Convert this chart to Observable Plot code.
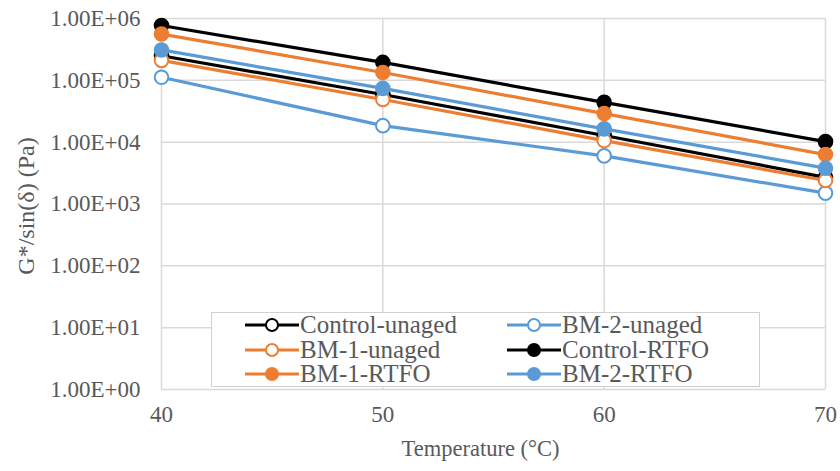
<!DOCTYPE html>
<html><head><meta charset="utf-8">
<script src="https://cdn.jsdelivr.net/npm/d3@7"></script>
<script src="https://cdn.jsdelivr.net/npm/@observablehq/plot@0.6"></script>
<style>
body{margin:0;background:#fff;}
#wrap{position:relative;width:840px;height:471px;font-family:"Liberation Serif","Times New Roman",serif;}
#legend{position:absolute;left:211px;top:312px;width:549px;height:75px;border:1.5px solid #d0d0d0;background:#fff;box-sizing:border-box;font-size:25px;color:#595959;}
.item{position:absolute;display:flex;align-items:center;white-space:nowrap;height:24px;line-height:24px;}
.item svg{margin-right:1px;flex:none;}
</style></head>
<body><div id="wrap"><div id="chart"></div><div id="legend"></div></div>
<script>
const temps = [40, 50, 60, 70];
const seriesNames = ["Control-unaged","BM-2-unaged","BM-1-unaged","Control-RTFO","BM-1-RTFO","BM-2-RTFO"];
const seriesColors = ["#000000","#5B9BD5","#ED7D31","#000000","#ED7D31","#5B9BD5"];
const seriesFilled = [false,false,false,true,true,true];
const controlUnaged = [250000, 59000, 12800, 2700];
const bm2Unaged     = [112000, 18500, 6000, 1500];
const bm1Unaged     = [210000, 49000, 10600, 2400];
const controlRTFO   = [770000, 195000, 44000, 10200];
const bm1RTFO       = [560000, 134000, 29000, 6300];
const bm2RTFO       = [310000, 74000, 16400, 3800];
const seriesValues = [controlUnaged, bm2Unaged, bm1Unaged, controlRTFO, bm1RTFO, bm2RTFO];
const yTicks = [1, 10, 100, 1000, 10000, 100000, 1000000];

const rows = [];
seriesNames.forEach((s, i) => temps.forEach((t, j) => rows.push({series: s, idx: i, t, v: seriesValues[i][j]})));

const fmt = v => { const e = Math.round(Math.log10(v)); return "1.00E+" + String(e).padStart(2, "0"); };
const FONT = "'Liberation Serif', 'Times New Roman', serif";

const marks = [
  Plot.gridY(yTicks, {stroke: "#d9d9d9", strokeOpacity: 1, strokeWidth: 1.5}),
  Plot.gridX(temps, {stroke: "#d9d9d9", strokeOpacity: 1, strokeWidth: 1.5}),
  Plot.text(yTicks, {y: d => d, text: fmt, frameAnchor: "left", textAnchor: "end", dx: -21, fontSize: 23, fontFamily: FONT, fill: "#595959"}),
  Plot.text(temps, {x: d => d, text: d => String(d), frameAnchor: "bottom", lineAnchor: "top", dy: 16, fontSize: 23, fontFamily: FONT, fill: "#595959"})
];
seriesNames.forEach((s, i) => {
  const d = rows.filter(r => r.idx === i);
  marks.push(Plot.line(d, {x: "t", y: "v", stroke: seriesColors[i], strokeWidth: 3.2}));
  marks.push(Plot.dot(d, {x: "t", y: "v", r: 6.8, stroke: seriesColors[i], strokeWidth: 2, fill: seriesFilled[i] ? seriesColors[i] : "white"}));
});

const chart = Plot.plot({
  width: 840, height: 471,
  marginLeft: 161, marginRight: 15, marginTop: 18, marginBottom: 82,
  style: {fontFamily: FONT, fontSize: "21px", background: "white", overflow: "visible"},
  x: {domain: [40, 70], axis: null},
  y: {type: "log", domain: [1, 1000000], axis: null},
  marks: [
    ...marks,
    Plot.text(["Temperature (°C)"], {frameAnchor: "bottom", textAnchor: "middle", dy: 66, dx: -13, fontSize: 22.5, fontFamily: FONT, fill: "#595959"}),
    Plot.text(["G*/sin(δ) (Pa)"], {frameAnchor: "left", textAnchor: "middle", dx: -135, dy: 2, rotate: -90, fontSize: 24, fontFamily: FONT, fill: "#595959"})
  ]
});
document.getElementById("chart").appendChild(chart);

const leg = document.getElementById("legend");
seriesNames.forEach((s, i) => {
  const c = seriesColors[i];
  const div = document.createElement("div");
  div.className = "item";
  div.style.left = (33 + (i % 2) * 262) + "px";
  div.style.top = (0 + Math.floor(i / 2) * 24.5) + "px";
  div.innerHTML = `<svg width="54" height="16"><line x1="0" y1="8" x2="54" y2="8" stroke="${c}" stroke-width="3.2"/><circle cx="27" cy="8" r="6" stroke="${c}" stroke-width="2" fill="${seriesFilled[i] ? c : "white"}"/></svg><span>${s}</span>`;
  leg.appendChild(div);
});
</script></body></html>
